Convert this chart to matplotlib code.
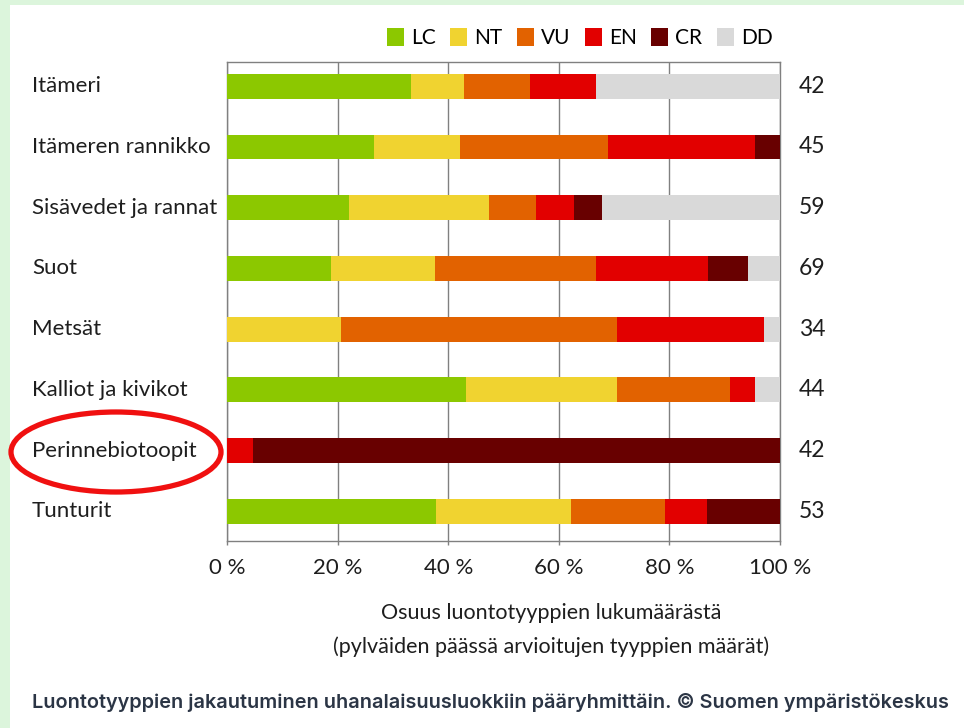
import numpy as np
import matplotlib.pyplot as plt
from matplotlib.patches import Ellipse, Rectangle, Patch

# -- Data: number of habitat types per threat category
groups = ['Itämeri', 'Itämeren rannikko', 'Sisävedet ja rannat', 'Suot',
          'Metsät', 'Kalliot ja kivikot', 'Perinnebiotoopit', 'Tunturit']
categories = ['LC', 'NT', 'VU', 'EN', 'CR', 'DD']
lc = [14, 12, 13, 13, 0, 19, 0, 20]
nt = [4, 7, 15, 13, 7, 12, 0, 13]
vu = [5, 12, 5, 20, 17, 9, 0, 9]
en = [5, 12, 4, 14, 9, 2, 2, 4]
cr = [0, 2, 3, 5, 0, 0, 40, 7]
dd = [14, 0, 19, 4, 1, 2, 0, 0]
totals = [42, 45, 59, 69, 34, 44, 42, 53]
xticklabels = ['0 %', '20 %', '40 %', '60 %', '80 %', '100 %']

colors = ['#8cc800', '#f0d330', '#e26200', '#e20000', '#680000', '#d9d9d9']

TXT = '#1e1e1e'
FONT = 'Lato'
FS = 16


def main():
    fig = plt.figure(figsize=(9.64, 7.28), dpi=100, facecolor='#dcf5dc')
    # white panel, light green strip on the left and top
    fig.add_artist(Rectangle((10 / 964, 0), 1, 1 - 5 / 728,
                             transform=fig.transFigure, fc='white', ec='none',
                             zorder=-10))

    ax = fig.add_axes([227 / 964, 1 - 541 / 728, 553 / 964, 479 / 728])
    ax.set_facecolor('white')

    counts = np.array([lc, nt, vu, en, cr, dd], dtype=float)
    share = counts / counts.sum(axis=0) * 100
    ypos = np.arange(len(groups))[::-1]

    left = np.zeros(len(groups))
    for i, cat in enumerate(categories):
        ax.barh(ypos, share[i], left=left, height=0.41, color=colors[i],
                edgecolor='none', zorder=3)
        left += share[i]

    ax.set_xlim(0, 100)
    ax.set_ylim(-0.49, 7.40)
    ax.set_xticks(np.arange(0, 101, 20))
    ax.set_xticklabels(xticklabels, fontsize=FS, family=FONT, color=TXT)
    ax.tick_params(axis='x', length=3, width=1, color='#808080', pad=9)
    ax.set_yticks([])
    ax.grid(axis='x', color='#808080', lw=1, zorder=1)
    for sp in ax.spines.values():
        sp.set_color('#808080')
        sp.set_linewidth(1)

    trans = ax.get_yaxis_transform()
    for y, name, n in zip(ypos, groups, totals):
        ax.text(-0.3526, y, name, transform=trans, ha='left', va='center',
                fontsize=FS, family=FONT, color=TXT)
        ax.text(1.034, y, str(n), transform=trans, ha='left', va='center',
                fontsize=FS + 0.5, family=FONT, color=TXT)

    handles = [Patch(fc=c, ec='none') for c in colors]
    fig.legend(handles, categories, loc='center right',
               bbox_to_anchor=(781 / 964, 1 - 38 / 728), ncol=6, frameon=False,
               prop={'family': FONT, 'size': 15}, handlelength=0.8,
               handleheight=0.95, handletextpad=0.35, columnspacing=0.7,
               borderaxespad=0)

    fig.text(551 / 964, 1 - 630 / 728,
             'Osuus luontotyyppien lukumäärästä\n(pylväiden päässä arvioitujen tyyppien määrät)',
             ha='center', va='center', fontsize=15.5, family=FONT, color=TXT,
             linespacing=1.75)

    fig.text(32 / 964, 1 - 703 / 728,
             'Luontotyyppien jakautuminen uhanalaisuusluokkiin pääryhmittäin. © Suomen ympäristökeskus',
             ha='left', va='center', fontsize=14.3, family='Inter',
             fontweight='semibold', color='#2b3545')

    # red highlight ring
    fig.add_artist(Ellipse((116 / 964, 1 - 452 / 728), 210 / 964, 80 / 728,
                           transform=fig.transFigure, fill=False,
                           ec='#f01010', lw=3.8, zorder=20))

    fig.savefig('out.png', dpi=100, facecolor=fig.get_facecolor())


if __name__ == '__main__':
    main()
